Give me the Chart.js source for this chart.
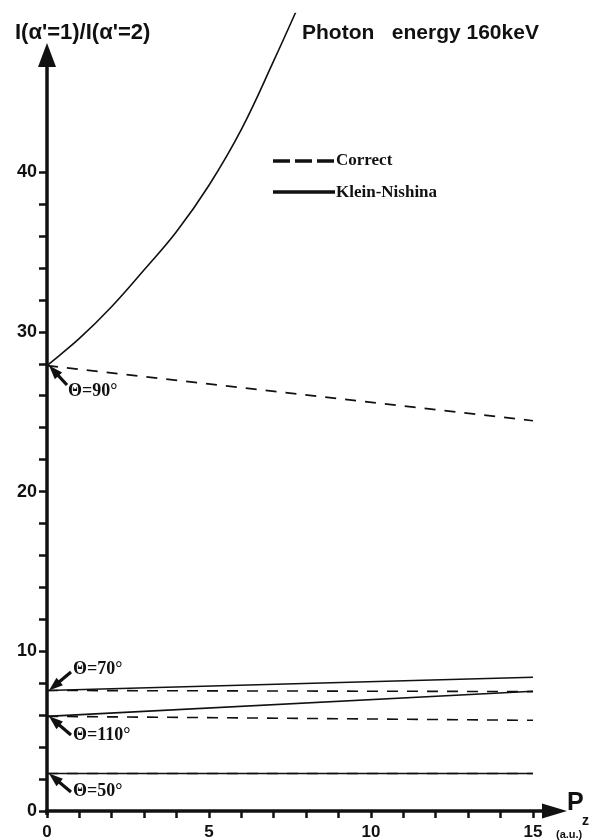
<!DOCTYPE html>
<html><head><meta charset="utf-8">
<script src="https://cdn.jsdelivr.net/npm/chart.js@4/dist/chart.umd.min.js"></script>
<style>html,body{margin:0;padding:0;background:#fff}#wrap{width:592px;height:840px;position:relative}</style>
</head><body><div id="wrap"><canvas id="c" width="592" height="840"></canvas></div>
<script>
// ---- data ----
const pzCurve = [0, 1, 2, 3, 4, 5, 6, 7, 8];
const kleinNishina90 = [27.9, 29.6, 31.6, 33.9, 36.3, 39.2, 42.7, 47.0, 51.5];
const pzEnds = [0, 15];
const correct90 = [27.9, 24.45];
const kleinNishina70 = [7.55, 8.38];
const correct70 = [7.55, 7.48];
const kleinNishina110 = [5.93, 7.5];
const correct110 = [5.93, 5.68];
const kleinNishina50 = [2.35, 2.35];
const correct50 = [2.35, 2.35];
const yTickLabels = [0, 10, 20, 30, 40];
const xTickLabels = [0, 5, 10, 15];
const angleLabels = ['Θ=90°', 'Θ=70°', 'Θ=110°', 'Θ=50°'];
const angleValues = [27.9, 7.55, 5.93, 2.35];
const legendLabels = ['Correct', 'Klein-Nishina'];
const titleText = "I(α'=1)/I(α'=2)";
const energyText = 'Photon   energy 160keV';

function pts(xs, ys) { return xs.map((x, i) => ({x: x, y: ys[i]})); }
const solid = {borderColor: '#111', borderWidth: 1.6, pointRadius: 0, fill: false};
const dashed = {borderColor: '#111', borderWidth: 1.6, pointRadius: 0, fill: false, borderDash: [11, 9]};

const datasets = [
  Object.assign({label: 'KN 90', data: pts(pzCurve, kleinNishina90), tension: 0.4}, solid),
  Object.assign({label: 'Correct 90', data: pts(pzEnds, correct90)}, dashed),
  Object.assign({label: 'KN 70', data: pts(pzEnds, kleinNishina70)}, solid),
  Object.assign({label: 'Correct 70', data: pts(pzEnds, correct70)}, dashed),
  Object.assign({label: 'KN 110', data: pts(pzEnds, kleinNishina110)}, solid),
  Object.assign({label: 'Correct 110', data: pts(pzEnds, correct110)}, dashed),
  Object.assign({label: 'KN 50', data: pts(pzEnds, kleinNishina50)}, solid),
  Object.assign({label: 'Correct 50', data: pts(pzEnds, correct50)}, dashed)
];

function arrowHead(ctx, tx, ty, fx, fy, len, half) {
  const a = Math.atan2(ty - fy, tx - fx);
  ctx.beginPath();
  ctx.moveTo(tx, ty);
  ctx.lineTo(tx - len * Math.cos(a) + half * Math.sin(a), ty - len * Math.sin(a) - half * Math.cos(a));
  ctx.lineTo(tx - len * Math.cos(a) - half * Math.sin(a), ty - len * Math.sin(a) + half * Math.cos(a));
  ctx.closePath();
  ctx.fill();
}

const decor = {
  id: 'decor',
  afterDraw(chart) {
    const ctx = chart.ctx;
    const xs = chart.scales.x, ys = chart.scales.y;
    const x0 = xs.getPixelForValue(0), y0 = ys.getPixelForValue(0);
    ctx.save();
    ctx.fillStyle = '#111'; ctx.strokeStyle = '#111';
    // axes
    ctx.lineWidth = 3.5; ctx.setLineDash([]);
    ctx.beginPath(); ctx.moveTo(x0, y0 + 4); ctx.lineTo(x0, 60); ctx.stroke();
    arrowHead(ctx, x0, 43, x0, 100, 24, 9);
    ctx.beginPath(); ctx.moveTo(x0 - 2, y0); ctx.lineTo(550, y0); ctx.stroke();
    arrowHead(ctx, 567, y0, 500, y0, 25, 7.5);
    // title texts
    ctx.textBaseline = 'alphabetic'; ctx.textAlign = 'left';
    ctx.font = 'bold 22px "Liberation Sans", Arial, sans-serif';
    ctx.fillText(titleText, 15, 39, 136);
    ctx.font = 'bold 21px "Liberation Sans", Arial, sans-serif';
    ctx.fillText(energyText, 302, 39, 263);
    // P_z label
    ctx.font = 'bold 25px "Liberation Sans", Arial, sans-serif';
    ctx.fillText('P', 567, 810);
    ctx.font = 'bold 14px "Liberation Sans", Arial, sans-serif';
    ctx.fillText('z', 582, 825);
    ctx.font = 'bold 11px "Liberation Sans", Arial, sans-serif';
    ctx.fillText('(a.u.)', 556, 838);
    // legend
    ctx.lineWidth = 3.5;
    ctx.setLineDash([17, 5]);
    ctx.beginPath(); ctx.moveTo(273, 161); ctx.lineTo(335, 161); ctx.stroke();
    ctx.setLineDash([]);
    ctx.beginPath(); ctx.moveTo(273, 192); ctx.lineTo(335, 192); ctx.stroke();
    ctx.font = 'bold 17px "Liberation Serif", "Times New Roman", serif';
    ctx.textBaseline = 'middle';
    ctx.fillText(legendLabels[0], 336, 161);
    ctx.fillText(legendLabels[1], 336, 193);
    // angle annotations: [text x, text y, arrow tail x, tail y]
    const ann = [[68, 391, 67, 385], [73, 669, 71, 672], [73, 735, 71, 735], [73, 791, 71, 792]];
    ctx.font = 'bold 18px "Liberation Serif", "Times New Roman", serif';
    ctx.lineWidth = 3.2;
    angleLabels.forEach((t, i) => {
      const a = ann[i];
      const hx = x0 + 2, hy = ys.getPixelForValue(angleValues[i]);
      ctx.beginPath(); ctx.moveTo(a[2], a[3]);
      const ang = Math.atan2(hy - a[3], hx - a[2]);
      ctx.lineTo(hx - 10 * Math.cos(ang), hy - 10 * Math.sin(ang)); ctx.stroke();
      arrowHead(ctx, hx, hy, a[2], a[3], 14, 5);
      ctx.fillText(t, a[0], a[1]);
    });
    ctx.restore();
  }
};

new Chart(document.getElementById('c'), {
  type: 'line',
  data: {datasets: datasets},
  options: {
    responsive: false,
    animation: false,
    devicePixelRatio: 1,
    layout: {padding: {left: 0, top: 9.5, right: 26.6, bottom: 0}},
    plugins: {legend: {display: false}, tooltip: {enabled: false}},
    scales: {
      x: {
        type: 'linear', min: 0, max: 16,
        afterFit(s) { s.height = 29; },
        afterBuildTicks(s) { s.ticks = s.ticks.filter(t => t.value <= 15); },
        border: {display: false},
        grid: {drawOnChartArea: false, drawTicks: true, tickLength: 7, tickWidth: 2.5, tickColor: '#111'},
        ticks: {stepSize: 1, padding: 4, color: '#111', maxRotation: 0, autoSkip: false,
          font: {family: '"Liberation Sans", Arial, sans-serif', size: 17, weight: 'bold'},
          callback: v => xTickLabels.includes(v) ? String(v) : ''}
      },
      y: {
        type: 'linear', min: 0, max: 50,
        afterFit(s) { s.width = 47; },
        afterBuildTicks(s) { s.ticks = s.ticks.filter(t => t.value <= 40); },
        border: {display: false},
        grid: {drawOnChartArea: false, drawTicks: true, tickLength: 8, tickWidth: 2.5, tickColor: '#111'},
        ticks: {stepSize: 2, padding: 2, color: '#111', autoSkip: false,
          font: {family: '"Liberation Sans", Arial, sans-serif', size: 18, weight: 'bold'},
          callback: v => yTickLabels.includes(v) ? String(v) : ''}
      }
    }
  },
  plugins: [decor]
});
</script></body></html>
